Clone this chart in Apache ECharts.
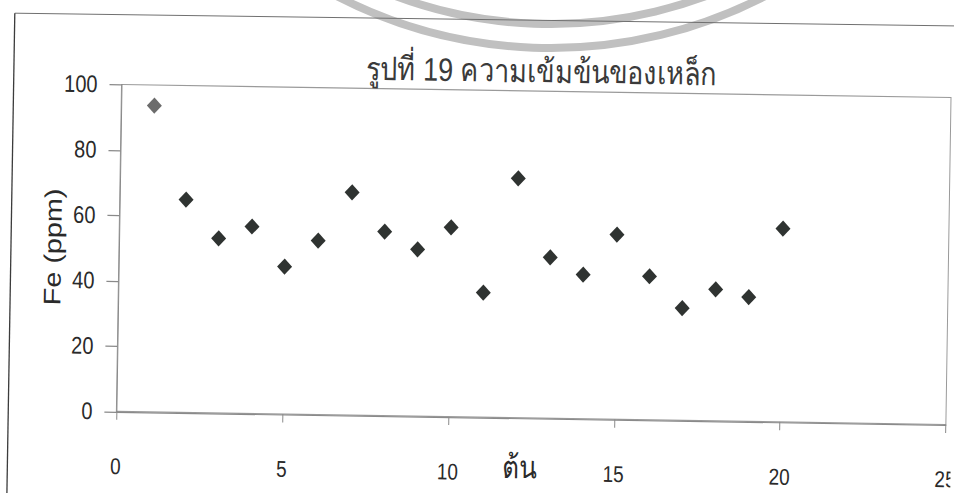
<!DOCTYPE html>
<html>
<head>
<meta charset="utf-8">
<script src="https://cdn.jsdelivr.net/npm/echarts@6/dist/echarts.min.js"></script>
<style>
  html, body { margin: 0; padding: 0; width: 954px; height: 493px; overflow: hidden; background: #ffffff; }
  /* the scanned page sits slightly tilted and stretched vertically */
  #chart {
    position: absolute; left: 0; top: 41.5px; width: 954px; height: 411px;
    transform-origin: 477px 205px;
    transform: rotate(0.9deg) scale(1, 1.2);
  }
  /* page marks: stamp rings and the chart-area frame */
  #page {
    position: absolute; left: 0; top: 0; width: 954px; height: 493px;
    pointer-events: none;
  }
</style>
</head>
<body>
<div id="chart"></div>
<div id="page"></div>
<script>
// Tree number (ต้น) and iron concentration Fe (ppm)
const trees = [1, 2, 3, 4, 5, 6, 7, 8, 9, 10, 11, 12, 13, 14, 15, 16, 17, 18, 19, 20];
const fe = [93.7, 65.1, 53.4, 57.2, 45.1, 53.2, 68.1, 56.3, 51.0, 57.9,
            38.1, 73.2, 49.2, 44.1, 56.5, 43.9, 34.3, 40.2, 38.0, 59.1];
const xTicks = [0, 5, 10, 15, 20, 25];
const yTicks = [0, 20, 40, 60, 80, 100];

const titleText = 'รูปที่ 19 ความเข้มข้นของเหล็ก';
const xName = 'ต้น';
const yName = 'Fe (ppm)';

const FONT = "'Liberation Sans', Arial, 'Noto Sans', sans-serif";

const chart = echarts.init(document.getElementById('chart'), null, { renderer: 'svg' });

chart.setOption({
  backgroundColor: 'transparent',
  animation: false,
  title: {
    text: titleText,
    left: 533.5,
    top: 39,
    textAlign: 'center',
    textStyle: { fontFamily: FONT, fontSize: 27, fontWeight: 'normal', color: '#3a3a3a' }
  },
  grid: {
    left: 119, right: 5.4, top: 74.25, bottom: 64.25,
    show: true, borderColor: '#9a9a9a', borderWidth: 1, backgroundColor: 'transparent',
    outerBoundsMode: 'none', containLabel: false
  },
  xAxis: {
    type: 'value',
    min: xTicks[0], max: xTicks[xTicks.length - 1], interval: xTicks[1] - xTicks[0],
    name: xName, nameLocation: 'middle', nameGap: 54, nameMoveOverlap: false,
    nameTextStyle: {
      fontFamily: FONT, fontSize: 26, color: '#2a2a2a',
      verticalAlign: 'bottom', padding: [0, 21, 0, 0]
    },
    axisLine: { show: true, onZero: false, lineStyle: { color: '#8a8a8a', width: 1 } },
    axisTick: { show: true, inside: false, length: 7, lineStyle: { color: '#8a8a8a' } },
    axisLabel: { margin: 36, fontFamily: FONT, fontSize: 19, color: '#2a2a2a' },
    splitLine: { show: false }
  },
  yAxis: {
    type: 'value',
    min: yTicks[0], max: yTicks[yTicks.length - 1], interval: yTicks[1] - yTicks[0],
    name: yName, nameLocation: 'middle', nameRotate: 90, nameGap: 54, nameMoveOverlap: false,
    nameTextStyle: { fontFamily: FONT, fontSize: 24, color: '#2a2a2a' },
    axisLine: { show: true, onZero: false, lineStyle: { color: '#8a8a8a', width: 1 } },
    axisTick: { show: true, inside: false, length: 12, lineStyle: { color: '#8a8a8a' } },
    axisLabel: { margin: 24, fontFamily: FONT, fontSize: 20, color: '#2a2a2a' },
    splitLine: { show: false }
  },
  series: [{
    type: 'scatter',
    symbol: 'diamond',
    symbolSize: [15, 13.5],
    data: trees.map((t, i) => [t, fe[i]]),
    itemStyle: {
      color: (p) => (p.dataIndex === 0 ? '#6c6c6c' : '#2f3331'),
      opacity: 1
    }
  }]
});

// Stamp rings and frame lines, laid out in page pixels
const page = echarts.init(document.getElementById('page'), null, { renderer: 'svg' });
page.setOption({
  backgroundColor: 'transparent',
  animation: false,
  graphic: [
    {
      type: 'circle', z: 1,
      shape: { cx: 551, cy: -420, r: 468 },
      style: { fill: 'none', stroke: '#c0c0c0', lineWidth: 8 }
    },
    {
      type: 'circle', z: 1,
      shape: { cx: 551, cy: -420, r: 444 },
      style: { fill: 'none', stroke: '#c0c0c0', lineWidth: 8 }
    },
    {
      type: 'line', z: 5,
      shape: { x1: 14.8, y1: 13.2, x2: 960, y2: 26 },
      style: { stroke: '#707070', lineWidth: 1 }
    },
    {
      type: 'line', z: 5,
      shape: { x1: 14.8, y1: 13.2, x2: 6.9, y2: 493 },
      style: { stroke: '#3c3c3c', lineWidth: 1.3 }
    }
  ]
});
</script>
</body>
</html>
